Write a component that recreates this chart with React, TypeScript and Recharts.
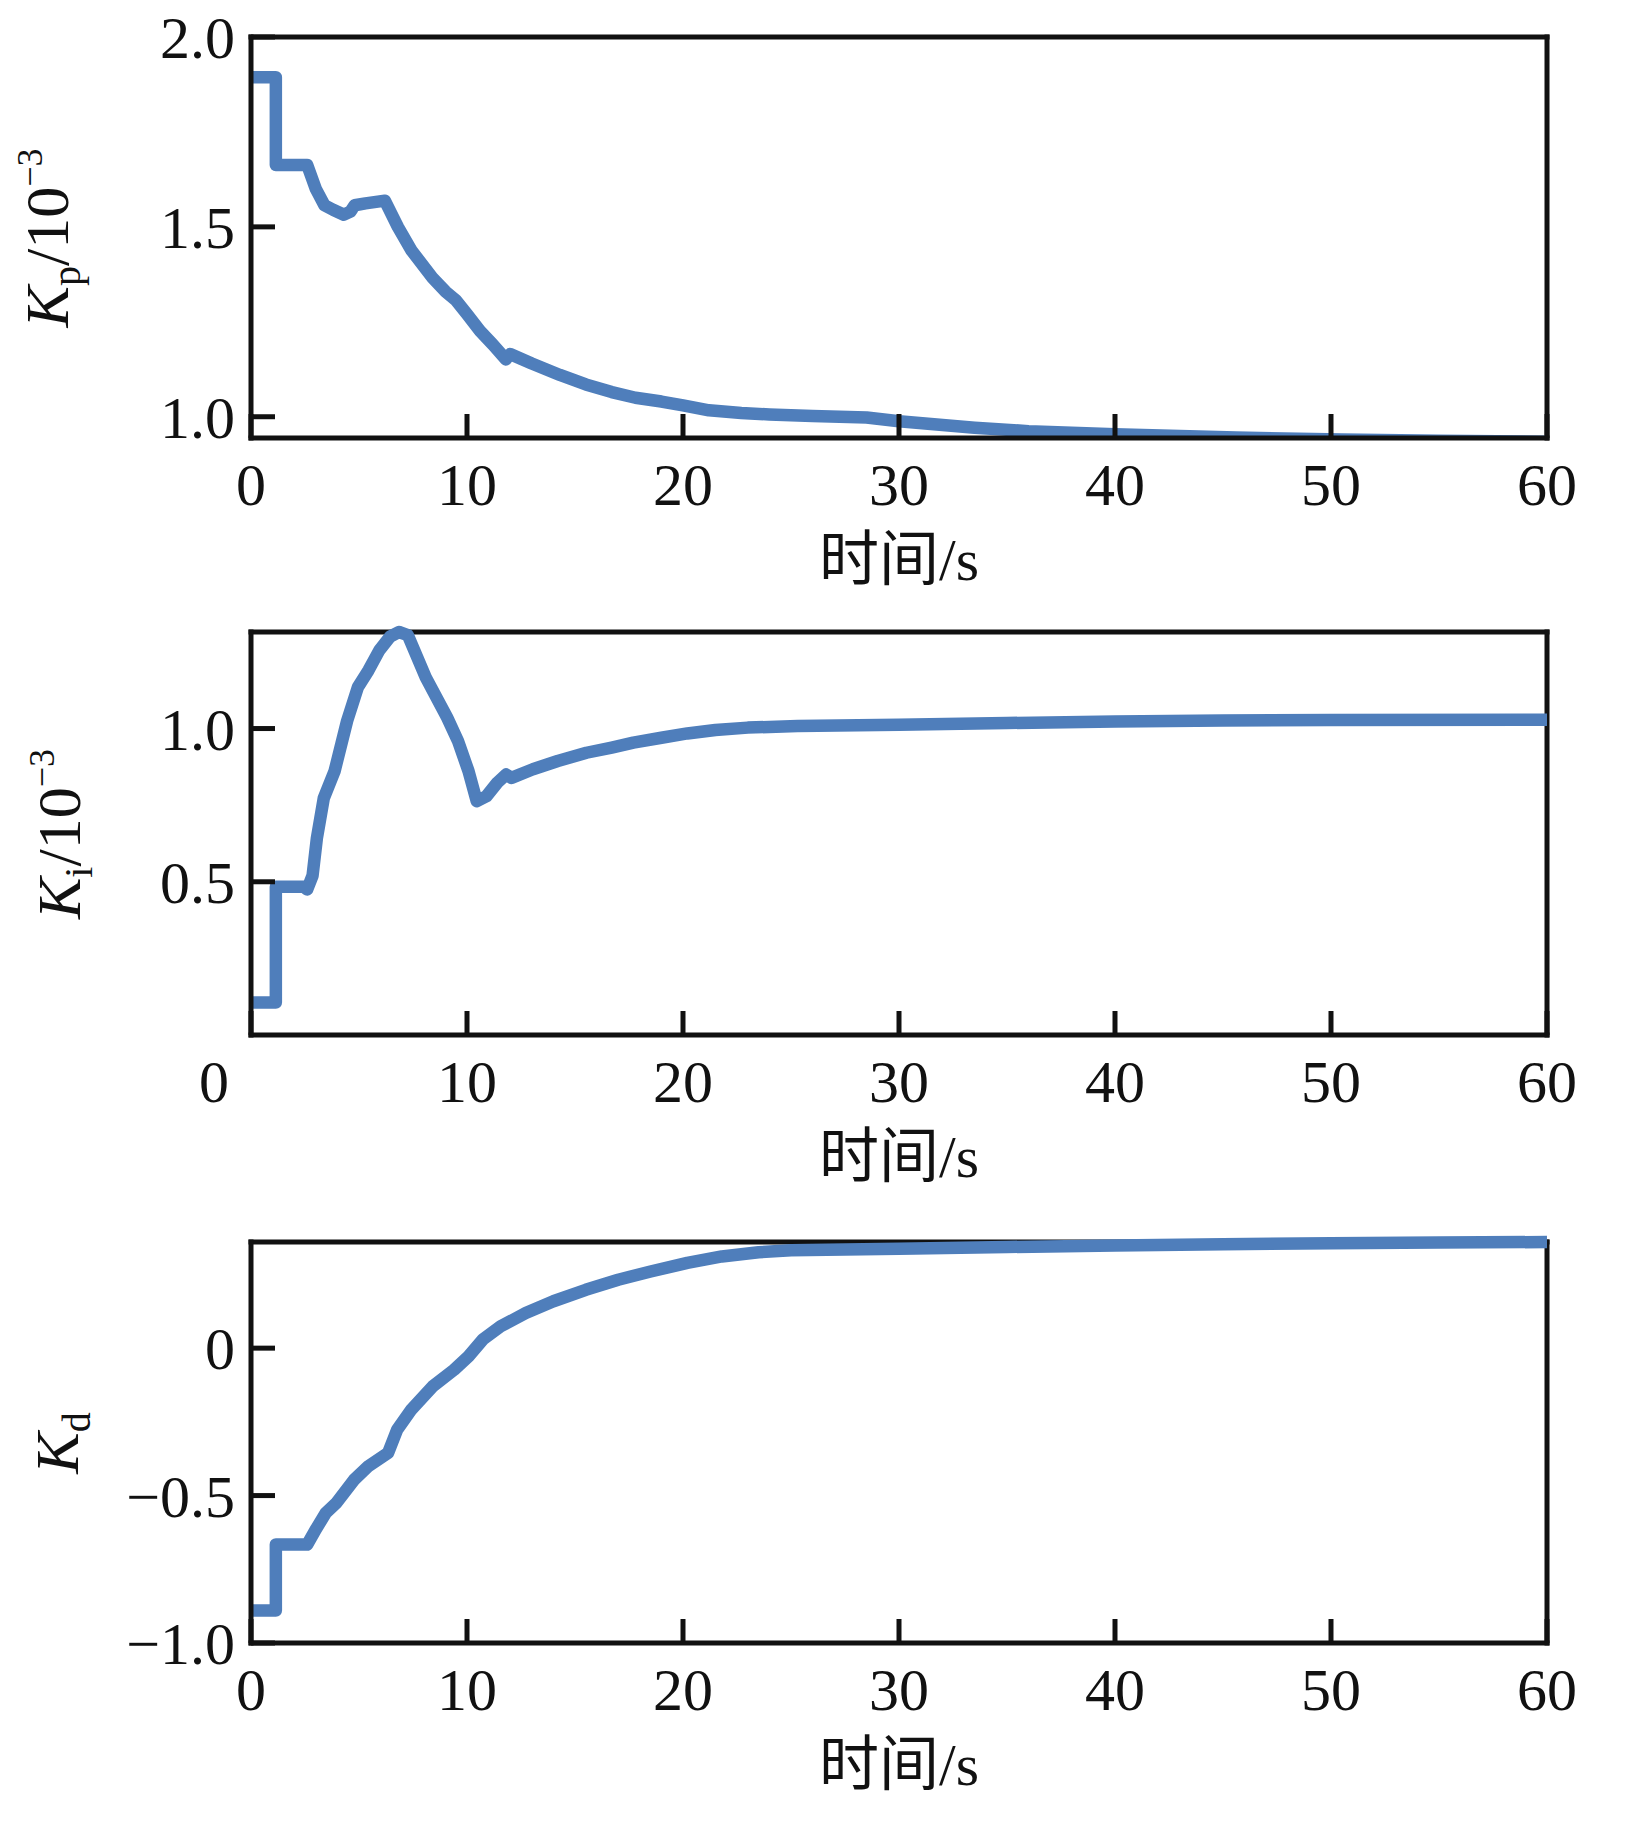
import { LineChart, Line, XAxis, YAxis, ReferenceLine } from 'recharts';

const SERIF = '"Liberation Serif", "Times New Roman", "Noto Sans CJK SC", serif';
const INK = '#111111';
const BLUE = '#4f7ebb';

const timeTicks = [0, 10, 20, 30, 40, 50, 60];

// Kp / 10^-3
const kpTime = [0, 1.15, 1.15, 2.6, 3.0, 3.4, 3.8, 4.3, 4.6, 4.8, 5.3, 6.2, 6.8, 7.44, 8.4, 9.0, 9.5, 10.0, 10.6, 11.2, 11.8, 12.0, 13.0, 14.3, 15.5, 16.7, 17.8, 19.0, 20.0, 21.2, 22.7, 24.0, 26.0, 28.5, 30.0, 33.5, 36.0, 40.0, 45.6, 50.5, 55.0, 60.0];
const kpValue = [1.894, 1.894, 1.663, 1.663, 1.6, 1.557, 1.545, 1.532, 1.54, 1.557, 1.562, 1.569, 1.5, 1.437, 1.366, 1.33, 1.306, 1.27, 1.226, 1.19, 1.151, 1.165, 1.14, 1.11, 1.085, 1.065, 1.05, 1.04, 1.03, 1.017, 1.01, 1.006, 1.002, 0.998, 0.988, 0.971, 0.962, 0.954, 0.945, 0.94, 0.937, 0.934];

// Ki / 10^-3
const kiTime = [0, 1.15, 1.15, 2.45, 2.6, 2.85, 3.05, 3.37, 3.87, 4.45, 4.95, 5.44, 5.94, 6.44, 6.85, 7.26, 8.09, 9.08, 9.58, 10.07, 10.45, 10.9, 11.4, 11.81, 12.06, 13.05, 14.2, 15.53, 16.7, 17.7, 19.0, 20.2, 21.5, 23.0, 25.3, 30, 35, 40, 45, 50, 60];
const kiValue = [0.106, 0.106, 0.484, 0.484, 0.475, 0.52, 0.642, 0.773, 0.861, 1.025, 1.135, 1.19, 1.255, 1.3, 1.315, 1.305, 1.167, 1.036, 0.96, 0.861, 0.763, 0.779, 0.823, 0.85, 0.839, 0.867, 0.894, 0.921, 0.938, 0.954, 0.97, 0.984, 0.995, 1.003, 1.008, 1.012, 1.018, 1.023, 1.026, 1.028, 1.029];

// Kd
const kdTime = [0, 1.15, 1.15, 2.6, 3.0, 3.46, 3.95, 4.78, 5.44, 6.35, 6.77, 7.43, 8.42, 9.41, 10.07, 10.73, 11.56, 12.72, 14.0, 15.5, 17.0, 18.5, 20.2, 21.8, 23.5, 25.0, 30, 35, 40, 45, 50, 55, 60];
const kdValue = [-0.89, -0.89, -0.666, -0.666, -0.615, -0.559, -0.525, -0.446, -0.4, -0.355, -0.276, -0.208, -0.129, -0.073, -0.028, 0.029, 0.074, 0.119, 0.159, 0.198, 0.232, 0.26, 0.289, 0.311, 0.325, 0.332, 0.337, 0.343, 0.348, 0.352, 0.356, 0.358, 0.36];

const kpTicks = [1.0, 1.5, 2.0];
const kiTicks = [0.5, 1.0];
const kdTicks = [-1.0, -0.5, 0];

const toRows = (t: number[], v: number[]) => t.map((x, i) => ({ t: x, v: v[i] }));

const oneDecimal = (v: number) => v.toFixed(1);
const signedDecimal = (v: number) => (v === 0 ? '0' : v.toFixed(1).replace('-', '\u2212'));

const AXIS_H = 170;

function TimeTick(props: any) {
  const { x, y, payload, zeroShift = 0 } = props;
  const dx = payload.value === 0 ? zeroShift : 0;
  return (
    <text x={x + dx} y={y} dy="0.71em" textAnchor="middle" fontSize={60} fontFamily={SERIF} fill={INK}>
      {payload.value}
    </text>
  );
}

// titleY is in the chart's own pixels
function XTitle({ titleY }: { titleY: number }) {
  return (
    <text x={899} y={titleY} textAnchor="middle" fontSize={60} fontFamily={SERIF} fill={INK}>
      时间/s
    </text>
  );
}

function YTitle({ cx, cy, sub, exponent }: { cx: number; cy: number; sub: string; exponent?: string }) {
  return (
    <text
      x={cx}
      y={cy}
      transform={`rotate(-90 ${cx} ${cy})`}
      textAnchor="middle"
      fontFamily={SERIF}
      fontSize={62}
      fill={INK}
    >
      <tspan fontStyle="italic">K</tspan>
      <tspan fontSize={40} dy={12}>{sub}</tspan>
      {exponent && <tspan dy={-12}>/10</tspan>}
      {exponent && <tspan fontSize={36} dy={-26}>{exponent}</tspan>}
    </text>
  );
}

interface PanelProps {
  top: number;
  pad: number;
  plotH: number;
  rows: { t: number; v: number }[];
  domain: [number, number];
  yTicks: number[];
  format: (v: number) => string;
  overflow?: boolean;
  zeroShift?: number;
  sub: string;
  exponent?: string;
  labelX: number;
  labelY: number;
}

function Panel({ top, pad, plotH, rows, domain, yTicks, format, overflow, zeroShift, sub, exponent, labelX, labelY }: PanelProps) {
  const frame = { stroke: INK, strokeWidth: 5, strokeLinecap: 'square' as const };
  return (
    <div style={{ position: 'absolute', left: 0, top }}>
      <LineChart width={1636} height={pad + plotH + AXIS_H} data={rows} margin={{ top: pad, right: 89, bottom: 0, left: 0 }}>
        <XAxis
          type="number"
          dataKey="t"
          domain={[0, 60]}
          ticks={timeTicks}
          interval={0}
          height={AXIS_H}
          axisLine={frame}
          tickLine={{ stroke: INK, strokeWidth: 5 }}
          tickSize={-24}
          tickMargin={48}
          tick={<TimeTick zeroShift={zeroShift ?? 0} />}
          label={<XTitle titleY={pad + plotH + 142} />}
        />
        <YAxis
          type="number"
          domain={domain}
          allowDataOverflow={overflow}
          ticks={yTicks}
          interval={0}
          width={251}
          axisLine={frame}
          tickLine={{ stroke: INK, strokeWidth: 5 }}
          tickSize={-24}
          tickMargin={40}
          tickFormatter={format}
          tick={{ fontSize: 60, fill: INK, fontFamily: SERIF }}
          label={<YTitle cx={labelX} cy={labelY - top} sub={sub} exponent={exponent} />}
        />
        <ReferenceLine y={domain[1]} stroke={INK} strokeWidth={5} strokeLinecap="square" />
        <ReferenceLine x={60} stroke={INK} strokeWidth={5} strokeLinecap="square" />
        <Line
          dataKey="v"
          type="linear"
          stroke={BLUE}
          strokeWidth={12.5}
          strokeLinejoin="round"
          dot={false}
          isAnimationActive={false}
        />
      </LineChart>
    </div>
  );
}

export default function App() {
  return (
    <div style={{ position: 'absolute', left: 0, top: 0, width: 1636, height: 1821, background: '#fff' }}>
      <Panel
        top={0}
        pad={37}
        plotH={401}
        rows={toRows(kpTime, kpValue)}
        domain={[0.944, 2.0]}
        yTicks={kpTicks}
        format={oneDecimal}
        overflow
        sub="p"
        exponent={'\u22123'}
        labelX={68}
        labelY={238}
      />
      <Panel
        top={592}
        pad={40}
        plotH={403}
        rows={toRows(kiTime, kiValue)}
        domain={[0, 1.315]}
        yTicks={kiTicks}
        format={oneDecimal}
        zeroShift={-37}
        sub="i"
        exponent={'\u22123'}
        labelX={80}
        labelY={834}
      />
      <Panel
        top={1202}
        pad={40}
        plotH={401}
        rows={toRows(kdTime, kdValue)}
        domain={[-1.0, 0.36]}
        yTicks={kdTicks}
        format={signedDecimal}
        sub="d"
        labelX={78}
        labelY={1443}
      />
    </div>
  );
}
